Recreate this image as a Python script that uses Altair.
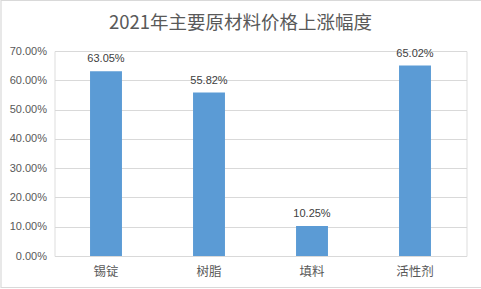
import altair as alt
import pandas as pd

categories = ["锡锭", "树脂", "填料", "活性剂"]
values = [0.6305, 0.5582, 0.1025, 0.6502]
y_ticks = [0, 0.1, 0.2, 0.3, 0.4, 0.5, 0.6, 0.7]
title_text = "2021年主要原材料价格上涨幅度"

df = pd.DataFrame({"cat": categories, "val": values})

FONT = "Liberation Sans, Noto Sans CJK SC, sans-serif"

base = alt.Chart(df).encode(
    x=alt.X("cat:N", sort=categories,
            scale=alt.Scale(paddingInner=0.69, paddingOuter=0.345),
            axis=alt.Axis(title=None, labelAngle=0, ticks=False, domainColor="#D9D9D9",
                          labelFontSize=12.5, labelColor="#595959", labelPadding=9,
                          labelFont="Noto Sans CJK SC")),
    y=alt.Y("val:Q", scale=alt.Scale(domain=[0, 0.7]),
            axis=alt.Axis(title=None, values=y_ticks, format=".2%", ticks=False, domain=False,
                          gridColor="#D9D9D9", labelFontSize=11, labelColor="#595959",
                          labelPadding=8, labelFont=FONT)),
)

bars = base.mark_bar(color="#5B9BD5")
labels = base.mark_text(baseline="bottom", dy=-7, fontSize=11, color="#404040", font=FONT).encode(
    text=alt.Text("val:Q", format=".2%")
)

single = pd.DataFrame({"t": [title_text]})

border = alt.Chart(single).mark_rect(
    filled=False, stroke="#D9D9D9", strokeWidth=1.2
).encode(
    x=alt.value(-53.5), x2=alt.value(465.5), y=alt.value(-50.5), y2=alt.value(236.5)
)

title = alt.Chart(single).mark_text(
    fontSize=18.5, color="#595959", font="Noto Sans CJK SC", baseline="alphabetic", align="center"
).encode(
    x=alt.value(186), y=alt.value(-22), text="t:N"
)

chart = (border + bars + labels + title).properties(
    width=412, height=205,
    autosize=alt.AutoSizeParams(type="none"),
    padding={"left": 54.5, "top": 51, "right": 14.5, "bottom": 33},
).configure_view(stroke=None).configure(background="white")

chart.save("out.html", embed_options={"renderer": "svg", "actions": False})
